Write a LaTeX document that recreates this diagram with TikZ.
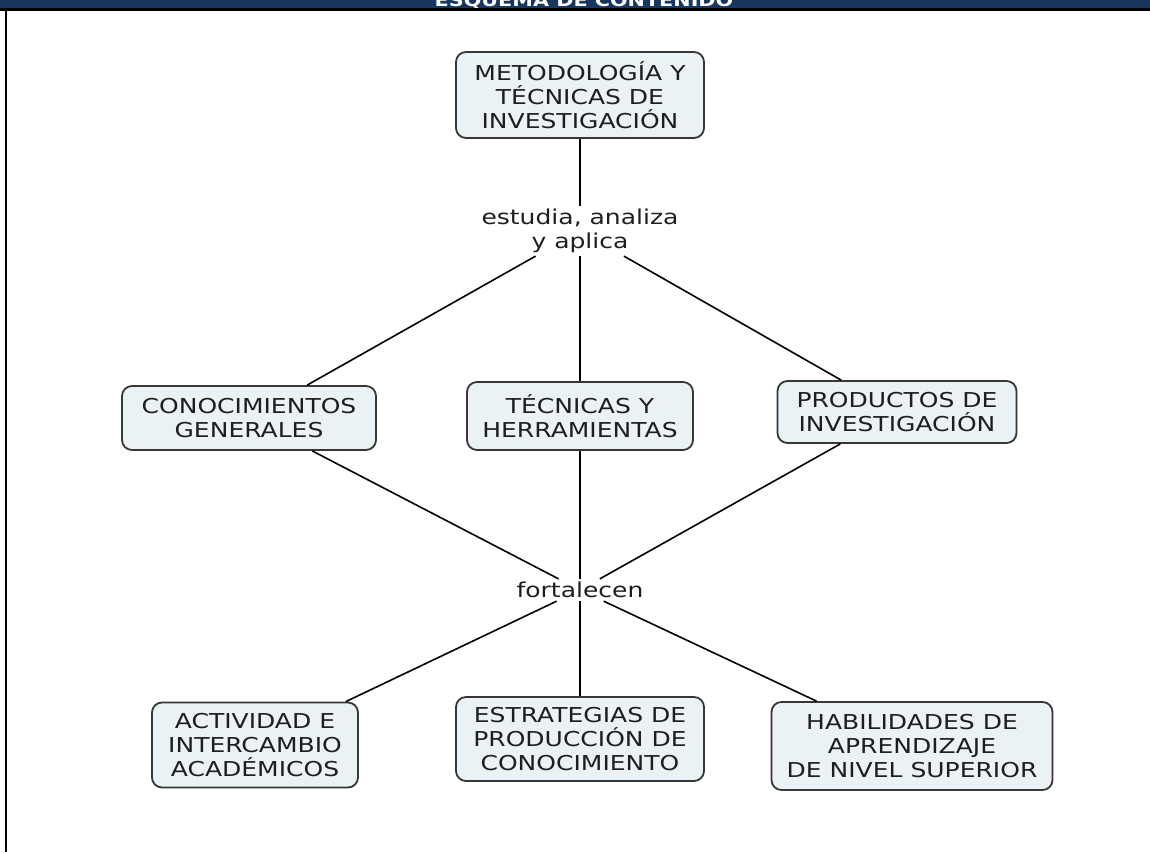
\documentclass[tikz,border=0pt]{standalone}
\usepackage{fontspec}
\newfontfamily\mapfont[FakeStretch=1.22]{DejaVu Sans}
\definecolor{headblue}{RGB}{23,55,94}
\definecolor{boxfill}{RGB}{234,242,245}
\definecolor{boxline}{RGB}{55,55,55}
\definecolor{maptext}{RGB}{30,30,30}
\tikzset{
  concept/.style={draw=boxline, line width=1.8pt, fill=boxfill, rounded corners=10pt, text=maptext,
    inner sep=0pt, align=center, font=\mapfont\fontsize{20.5}{24}\selectfont},
  linkword/.style={inner sep=3pt, align=center, text=maptext, font=\mapfont\fontsize{20.5}{24}\selectfont},
  link/.style={line width=1.6pt}
}
\begin{document}
\begin{tikzpicture}[x=1pt,y=-1pt]
	\useasboundingbox (0,0) rectangle (1150,852);
	\fill[white] (0,0) rectangle (1150,852);
	% header
	\fill[headblue] (0,0) rectangle (1150,8.3);
	\begin{scope}
		\clip (0,0) rectangle (1150,8.3);
		\node[anchor=base, text=white, font=\mapfont\bfseries\fontsize{17}{20}\selectfont] (head) at (584,6) {ESQUEMA DE CONTENIDO};
	\end{scope}
	\draw[line width=2.4pt] (0,9.5) -- (1150,9.5);
	\draw[line width=2pt] (6,9.5) -- (6,852);

	\node[concept, minimum width=248pt, minimum height=86pt] (metodo) at (580,95) {METODOLOGÍA Y\\TÉCNICAS DE\\INVESTIGACIÓN};
	\node[linkword] (estudia) at (580,231) {estudia, analiza\\y aplica};
	\node[concept, minimum width=254pt, minimum height=64pt] (conoc) at (249,418) {CONOCIMIENTOS\\GENERALES};
	\node[concept, minimum width=226pt, minimum height=68pt] (tecnicas) at (580,416) {TÉCNICAS Y\\HERRAMIENTAS};
	\node[concept, minimum width=239pt, minimum height=62pt] (productos) at (897,412) {PRODUCTOS DE\\INVESTIGACIÓN};
	\node[linkword] (fortalecen) at (580,590) {fortalecen};
	\node[concept, minimum width=206pt, minimum height=85pt] (actividad) at (255,745) {ACTIVIDAD E\\INTERCAMBIO\\ACADÉMICOS};
	\node[concept, minimum width=248pt, minimum height=84pt] (estrategias) at (580,739) {ESTRATEGIAS DE\\PRODUCCIÓN DE\\CONOCIMIENTO};
	\node[concept, minimum width=281pt, minimum height=88pt] (habilidades) at (912,746) {HABILIDADES DE\\APRENDIZAJE\\DE NIVEL SUPERIOR};

	\draw[link] (metodo) -- (estudia);
	\draw[link] (estudia) -- (conoc);
	\draw[link] (estudia) -- (tecnicas);
	\draw[link] (estudia) -- (productos);
	\draw[link] (conoc) -- (fortalecen);
	\draw[link] (tecnicas) -- (fortalecen);
	\draw[link] (productos) -- (fortalecen);
	\draw[link] (fortalecen) -- (actividad);
	\draw[link] (fortalecen) -- (estrategias);
	\draw[link] (fortalecen) -- (habilidades);
\end{tikzpicture}
\end{document}
